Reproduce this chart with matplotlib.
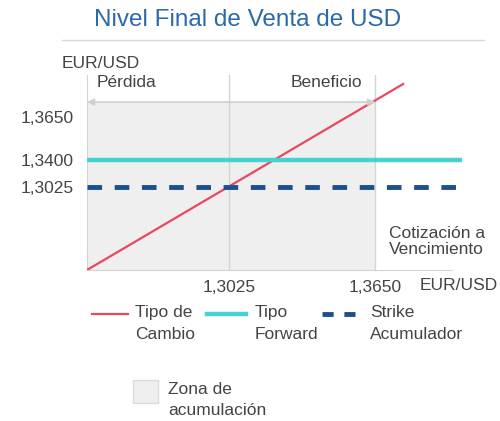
import numpy as np
import matplotlib
matplotlib.use("Agg")
import matplotlib.pyplot as plt
from matplotlib.lines import Line2D
from matplotlib.patches import Rectangle

plt.rcParams['font.family'] = ['Liberation Sans', 'DejaVu Sans']

# niveles EUR/USD
strike = 1.3025
forward = 1.3400
barrier = 1.3650
x_ticks = [1.3025, 1.3650]
y_ticks = [1.3650, 1.3400, 1.3025]
tick_labels_x = ["1,3025", "1,3650"]
tick_labels_y = ["1,3650", "1,3400", "1,3025"]

# tipo de cambio (recta del esquema)
spot_x = [1.2417, 1.3770]
spot_y = [1.25, 1.3925]

# escala vertical esquematica: valor -> altura (tramos lineales)
y_knots = [1.25, 1.3025, 1.3400, 1.3650, 1.40]
h_knots = [0, 83, 110, 153, 195]

# extender los extremos para poder extrapolar
s0 = (h_knots[1] - h_knots[0]) / (y_knots[1] - y_knots[0])
s1 = (h_knots[-1] - h_knots[-2]) / (y_knots[-1] - y_knots[-2])
yk = [y_knots[0] - 10] + y_knots + [y_knots[-1] + 10]
hk = [h_knots[0] - 10 * s0] + h_knots + [h_knots[-1] + 10 * s1]


def fwd(v):
    return np.interp(v, yk, hk)


def inv(h):
    return np.interp(h, hk, yk)


grey = '#d4d4d4'
txt = '#444444'
red = '#e8485f'
cyan = '#45d2d0'
navy = '#1d4f8c'
fs = 12.5

fig = plt.figure(figsize=(5, 4.21), dpi=100)
ax = fig.add_axes([87 / 500, 1 - 270 / 421, 375 / 500, 195 / 421])
ax.set_yscale('function', functions=(fwd, inv))
x_lo = spot_x[0]
ax.set_xlim(x_lo, 1.4022)
ax.set_ylim(y_knots[0], y_knots[-1])

# zona de acumulacion
ax.axvspan(x_lo, barrier, ymax=168 / 195, color='#efefef', lw=0, zorder=0)
for xv in x_ticks:
    ax.axvline(xv, color=grey, lw=1, zorder=1)

ax.plot(spot_x, spot_y, color=red, lw=1.6, zorder=3)
ax.axhline(forward, xmax=0.997, color=cyan, lw=3.2, zorder=4)
ax.axhline(strike, xmax=0.984, color=navy, lw=3.5, dashes=(3, 2.6), zorder=5)

# flecha perdida / beneficio
ax.annotate('', xy=(x_lo, 168 / 195), xytext=(barrier, 168 / 195),
            xycoords=('data', 'axes fraction'),
            arrowprops=dict(arrowstyle='<|-|>', color='#cfcfcf', lw=1.2,
                            shrinkA=0, shrinkB=0, mutation_scale=10))
ax.text(x_lo + 10 / 2336, 0.959, 'Pérdida', transform=ax.get_xaxis_transform(),
        ha='left', va='center', fontsize=fs, color=txt)
ax.text(barrier - 13 / 2336, 0.959, 'Beneficio', transform=ax.get_xaxis_transform(),
        ha='right', va='center', fontsize=fs, color=txt)
ax.text(0.805, 0.147, 'Cotización a\nVencimiento', transform=ax.transAxes,
        ha='left', va='center', fontsize=fs, color=txt, linespacing=1.05)

for s in ['top', 'right']:
    ax.spines[s].set_visible(False)
for s in ['left', 'bottom']:
    ax.spines[s].set_color(grey)
ax.spines['bottom'].set_bounds(x_lo, 1.3980)

ax.set_xticks(x_ticks, tick_labels_x)
ax.set_yticks(y_ticks, tick_labels_y)
ax.minorticks_off()
ax.tick_params(length=0, labelsize=fs, labelcolor=txt)
ax.tick_params(axis='x', pad=7)
ax.tick_params(axis='y', pad=9.5)

fig.text(0.496, 1 - 20 / 421, 'Nivel Final de Venta de USD', ha='center', va='center',
         fontsize=17.5, color='#2b69ab')
fig.add_artist(Line2D([62 / 500, 484 / 500], [1 - 40 / 421] * 2, color='#d9d9d9', lw=1))
fig.text(62 / 500, 1 - 63 / 421, 'EUR/USD', ha='left', va='center', fontsize=fs, color=txt)
fig.text(420 / 500, 1 - 285 / 421, 'EUR/USD', ha='left', va='center', fontsize=fs, color=txt)

# leyenda (muestra alineada con la primera linea del texto)
W, H = 500, 421
legend_items = [
    ((92, 128), dict(color=red, lw=1.6), 'Tipo de\nCambio', 135),
    ((207, 246), dict(color=cyan, lw=3.2), 'Tipo\nForward', 255),
    ((322, 355), dict(color=navy, lw=3.5, dashes=(2.3, 2.2)), 'Strike\nAcumulador', 370),
]
for (x0, x1), style, label, tx in legend_items:
    fig.add_artist(Line2D([x0 / W, x1 / W], [1 - 314 / H] * 2, **style))
    fig.text(tx / W, 1 - 305 / H, label, ha='left', va='top', fontsize=fs,
             color=txt, linespacing=1.55)

fig.add_artist(Rectangle((133 / W, 1 - 403 / H), 25 / W, 23 / H, facecolor='#efefef',
                         edgecolor='#dcdcdc', lw=1))
fig.text(168 / W, 1 - 382 / H, 'Zona de\nacumulación', ha='left', va='top', fontsize=fs,
         color=txt, linespacing=1.5)

fig.savefig('out.png', dpi=100)
